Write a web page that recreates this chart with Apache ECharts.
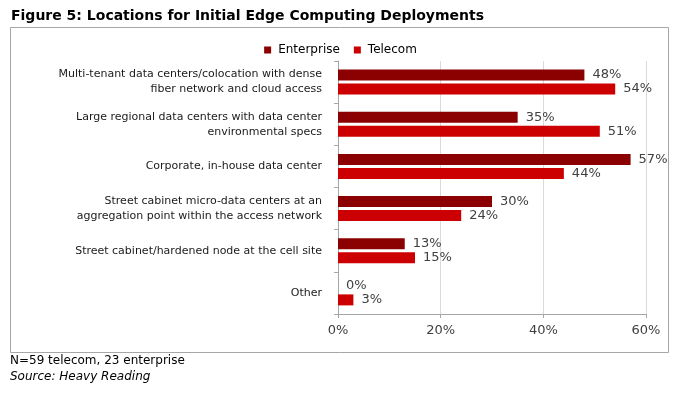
<!DOCTYPE html>
<html>
<head>
<meta charset="utf-8">
<script src="https://cdn.jsdelivr.net/npm/echarts@6/dist/echarts.min.js"></script>
<style>
html,body{margin:0;padding:0;background:#fff;}
#c{width:681px;height:393px;}
</style>
</head>
<body>
<div id="c"></div>
<script>
const categories = [
  "Multi-tenant data centers/colocation with dense\nfiber network and cloud access",
  "Large regional data centers with data center\nenvironmental specs",
  "Corporate, in-house data center",
  "Street cabinet micro-data centers at an\naggregation point within the access network",
  "Street cabinet/hardened node at the cell site",
  "Other"
];
const enterprise = [48, 35, 57, 30, 13, 0];
const telecom = [54, 51, 44, 24, 15, 3];
const xTicks = [0, 20, 40, 60];

const FONT = "DejaVu Sans";
const chart = echarts.init(document.getElementById('c'), null, {renderer: 'canvas'});
chart.setOption({
  animation: false,
  textStyle: {fontFamily: FONT},
  title: {
    text: "Figure 5: Locations for Initial Edge Computing Deployments",
    left: 6, top: 4,
    textStyle: {fontFamily: FONT, fontWeight: 'bold', fontSize: 14, color: '#000'}
  },
  graphic: [
    {type: 'rect', shape: {x: 10.5, y: 27.5, width: 658, height: 325},
     style: {fill: 'none', stroke: '#a6a6a6', lineWidth: 1}, silent: true},
    {type: 'text', x: 10, y: 355, style: {text: "N=59 telecom, 23 enterprise", font: "12px 'DejaVu Sans'", fill: '#000'}},
    {type: 'text', x: 10, y: 371, style: {text: "Source: Heavy Reading", font: "italic 12px 'DejaVu Sans'", fill: '#000'}}
  ],
  legend: {
    top: 39, left: 'center',
    itemWidth: 7, itemHeight: 7, itemGap: 14,
    icon: 'rect',
    textStyle: {fontFamily: FONT, fontSize: 12, color: '#000', padding: [0,0,0,2]},
    data: ['Enterprise', 'Telecom']
  },
  grid: {left: 338, right: 35, top: 61, bottom: 79, containLabel: false},
  xAxis: {
    type: 'value', min: 0, max: 60, interval: 20,
    axisLine: {show: true, lineStyle: {color: '#a6a6a6'}},
    axisTick: {show: true, length: 4, lineStyle: {color: '#a6a6a6'}},
    splitLine: {show: true, lineStyle: {color: '#d9d9d9'}},
    axisLabel: {fontFamily: FONT, fontSize: 13, color: '#404040', margin: 10,
      formatter: v => xTicks.includes(v) ? v + '%' : ''}
  },
  yAxis: {
    type: 'category', data: categories, inverse: true,
    axisLine: {show: true, lineStyle: {color: '#a6a6a6'}},
    axisTick: {show: true, length: 4, lineStyle: {color: '#a6a6a6'}},
    axisLabel: {fontFamily: FONT, fontSize: 11, color: '#1a1a1a', margin: 16, lineHeight: 15, align: 'right'}
  },
  series: [
    {name: 'Enterprise', type: 'bar', data: enterprise, barWidth: 11, barGap: '27%',
     itemStyle: {color: '#8b0000'},
     label: {show: true, position: 'right', distance: 8, formatter: '{c}%', fontFamily: FONT, fontSize: 13, color: '#404040'}},
    {name: 'Telecom', type: 'bar', data: telecom, barWidth: 11, barGap: '27%',
     itemStyle: {color: '#cc0000'},
     label: {show: true, position: 'right', distance: 8, formatter: '{c}%', fontFamily: FONT, fontSize: 13, color: '#404040'}}
  ]
});
</script>
</body>
</html>
